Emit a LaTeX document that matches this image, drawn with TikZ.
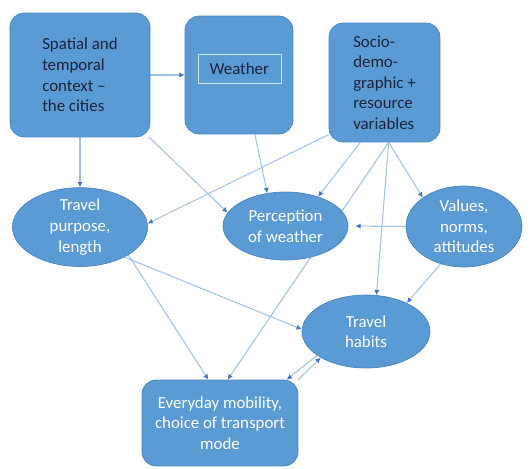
\documentclass[tikz,border=0pt]{standalone}
\usepackage{fontspec}
\setmainfont{Carlito}
\usetikzlibrary{shapes.geometric, arrows.meta, positioning, backgrounds}
\definecolor{boxblue}{RGB}{91, 155, 213}
\definecolor{boxedge}{RGB}{72, 132, 192}
\definecolor{linkblue}{RGB}{160, 195, 230}
\definecolor{tipblue}{RGB}{68, 114, 196}
\definecolor{darktext}{RGB}{25, 35, 55}
\tikzset{
    block/.style={
        rectangle,
        rounded corners=8pt,
        draw=boxedge,
        line width=0.4pt,
        fill=boxblue,
        inner sep=0pt,
        align=left,
        text=darktext,
        font=\fontsize{9.6}{11.7}\selectfont
    },
    outcome/.style={block, text=white, align=center},
    factor/.style={
        ellipse,
        draw=boxedge,
        line width=0.4pt,
        fill=boxblue,
        inner sep=0pt,
        align=center,
        text=white,
        font=\fontsize{9.6}{11.7}\selectfont
    },
    tag/.style={rectangle, draw=white!75!boxblue, line width=0.5pt, inner sep=0pt, text=darktext, font=\fontsize{9.6}{11.7}\selectfont},
    conn/.style={draw=linkblue, line width=0.6pt, -{Latex[length=3pt, width=3pt, color=tipblue]}}
}

\begin{document}
\begin{tikzpicture}[x=0.02cm, y=-0.02cm]
    \useasboundingbox (0,0) rectangle (532,468);

    % Nodes
    \node[block, minimum width=2.8cm, minimum height=2.48cm] (city) at (80,75) {Spatial and\\temporal\\context --\\the cities};
    \node[block, minimum width=2.16cm, minimum height=2.36cm] (weather) at (239,75) {};
    \node[tag, minimum width=1.66cm, minimum height=0.58cm, text width=1.2cm, align=left] (wlabel) at (239.5,68.5) {Weather};
    \node[block, minimum width=2.22cm, minimum height=2.38cm] (socio) at (384.5,82.5) {Socio-\\demo-\\graphic +\\resource\\variables};

    \node[factor, minimum width=2.7cm, minimum height=1.46cm, below=1cm of city] (purpose) {Travel\\purpose,\\length};
    \node[factor, minimum width=2.5cm, minimum height=1.36cm] (percep) at (285.5,226) {Perception\\of weather};
    \node[factor, minimum width=2.32cm, minimum height=1.62cm] (values) at (464,226.5) {Values,\\norms,\\attitudes};
    \node[factor, minimum width=2.56cm, minimum height=1.46cm] (habits) at (366,331.5) {Travel\\habits};

    \node[outcome, minimum width=3.12cm, minimum height=1.72cm] (mobility) at (220,423) {Everyday mobility,\\choice of transport\\mode};

    % Connections
    \begin{scope}[on background layer]
        \path[conn] (city.east) -- (weather.west);
        \path[conn] (city.south) -- (purpose.north);
        \path[conn] (city.-42) -- (percep.167);
        \path[conn] (weather.-75) -- (percep.119);

        \path[conn] (socio.223) -- (purpose.3);
        \path[conn] (socio.-112) -- (percep.42);
        \path[conn] (socio.-86) -- (mobility.80);
        \path[conn] (socio.-86) -- (habits.74);
        \path[conn] (socio.-86) -- (values.145);

        \path[conn, shorten >=4pt] (values.west) -- (percep.east);
        \path[conn] (values.238) -- (habits.35);

        \path[conn] (purpose.-30) -- (mobility.105);
        \path[conn] (purpose.-34) -- (habits.178);

        \path[conn] (habits.206) -- (mobility.33);
        \path[conn] (mobility.29) -- (habits.210);
    \end{scope}

\end{tikzpicture}
\end{document}
